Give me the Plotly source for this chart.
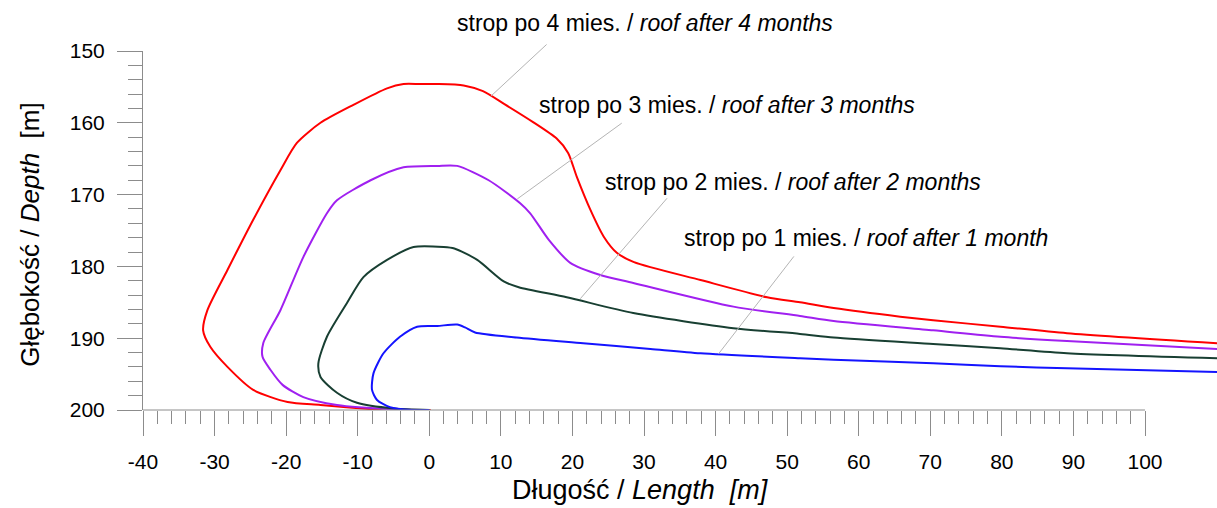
import plotly.graph_objects as go

# ---- data ----
red_x = [0.2, -3, -8, -15.2, -19.8, -24.6, -28.2, -30.6, -31.6, -31.0, -28.2, -24.6, -20.8, -18.5, -15.2,
         -10.6, -5.9, -3.6, -1.3, 1.1, 4.8, 7.5, 10.5, 14.5, 17.8, 19.4, 20.6, 22.5, 24.4, 26.2, 28.6,
         37.9, 47.2, 51.8, 56.5, 65.8, 70.4, 79.8, 89.1, 110.1]
red_y = [200.0, 200.3, 199.9, 199.3, 198.9, 197.2, 194.0, 191.2, 188.9, 186.1, 180.5, 173.5, 166.6, 162.8, 160.0,
         157.5, 155.2, 154.6, 154.6, 154.6, 154.8, 155.6, 157.4, 159.9, 162.2, 164.2, 167.5, 172.1, 175.9, 178.1, 179.4,
         181.9, 184.3, 185.0, 185.8, 187.0, 187.5, 188.4, 189.3, 190.7]

purple_x = [0.0, -5, -12.9, -17.6, -20.5, -22.2, -23.3, -23.2, -20.8, -17.6, -14.3, -12.9, -8.2, -3.6, 1.1,
            3.9, 8.3, 12.7, 14.1, 16.7, 19.7, 23.9, 28.5, 42.5, 51.8, 56.5, 70.4, 79.8, 89.1, 110.1]
purple_y = [200.0, 199.9, 199.3, 198.2, 196.5, 194.4, 192.6, 190.7, 186.1, 178.7, 172.6, 170.8, 168.0, 166.2, 166.0,
            166.0, 168.0, 171.2, 172.6, 176.3, 179.5, 181.2, 182.3, 185.6, 186.9, 187.6, 188.9, 189.8, 190.4, 191.5]

green_x = [0.0, -5, -10.1, -12.9, -15.2, -15.5, -14.3, -11.5, -9.2, -5.9, -2.2, 2.0, 3.5, 6.7, 10.4,
           12.5, 19.2, 28.5, 42.5, 51.8, 56.5, 70.4, 79.8, 89.1, 110.1]
green_y = [200.0, 199.8, 199.0, 197.6, 195.4, 193.5, 189.8, 185.1, 181.5, 179.1, 177.3, 177.3, 177.5, 179.1, 182.1,
           182.9, 184.3, 186.5, 188.6, 189.4, 189.9, 190.8, 191.4, 192.1, 192.8]

blue_x = [0.0, -2.5, -5.5, -7.3, -8.0, -7.8, -6.4, -4.1, -1.7, 1.1, 3.9, 5.0, 6.4, 12.2, 21.5, 30.9,
          37.9, 51.8, 56.5, 70.4, 79.8, 89.1, 110.1]
blue_y = [200.0, 200.0, 199.6, 198.6, 197.2, 194.9, 192.1, 189.8, 188.4, 188.3, 188.1, 188.5, 189.2, 189.9, 190.7, 191.5,
          192.1, 192.8, 193.0, 193.5, 193.9, 194.2, 194.7]

series = [
    ("4", red_x, red_y, "#ff0000"),
    ("3", purple_x, purple_y, "#a020f0"),
    ("2", green_x, green_y, "#183f32"),
    ("1", blue_x, blue_y, "#1414ff"),
]

labels = [
    "strop po 4 mies. / <i>roof after 4 months</i>",
    "strop po 3 mies. / <i>roof after 3 months</i>",
    "strop po 2 mies. / <i>roof after 2 months</i>",
    "strop po 1 mies. / <i>roof after 1 month</i>",
]
# label anchor (left edge x in data, y in data) ; first label is above the axis -> paper
label_pos = [(3.6, None), (15.1, 157.5), (24.3, 168.2), (35.3, 176.0)]
# leader lines: head on curve, tail near label
leaders = [((8.6, 156.3), (16.6, 148.9)),
           ((12.3, 170.6), (27.1, 159.9)),
           ((21.1, 184.5), (33.4, 170.3)),
           ((40.4, 192.2), (51.1, 178.4))]

x_major = list(range(-40, 101, 10))
x_minor = [v for v in range(-40, 101, 2) if v % 10 != 0]
y_major = list(range(150, 201, 10))
y_minor = [v for v in range(150, 201, 2) if v % 10 != 0]

FONT = "Liberation Sans, Arial, sans-serif"
AXC = "#8c8c8c"

fig = go.Figure()
for name, xs, ys, col in series:
    fig.add_trace(go.Scatter(x=xs, y=ys, mode="lines", name=name,
                             line=dict(color=col, width=2, shape="spline", smoothing=0.7),
                             hoverinfo="skip"))

X0, X1 = -40, 110.06
Y0, Y1 = 200, 150

for (lx, ly), txt in zip(label_pos, labels):
    if ly is None:
        fig.add_annotation(x=lx, xref="x", y=(410 - 23) / 359, yref="paper", text=txt,
                           showarrow=False, xanchor="left", yanchor="middle",
                           font=dict(family=FONT, size=23, color="#000"))
    else:
        fig.add_annotation(x=lx, xref="x", y=ly, yref="y", text=txt,
                           showarrow=False, xanchor="left", yanchor="middle",
                           font=dict(family=FONT, size=23, color="#000"))

for (hx, hy), (tx, ty) in leaders:
    fig.add_annotation(x=hx, y=hy, xref="x", yref="y", ax=tx, ay=ty, axref="x", ayref="y",
                       text="", showarrow=True, arrowhead=0, arrowwidth=1, arrowcolor="#b4b4b4",
                       standoff=0, startstandoff=0)

# x axis line only from -40 to 100 (as in the reference)
fig.add_shape(type="line", xref="paper", yref="paper",
              x0=0, x1=(x_major[-1] - X0) / (X1 - X0), y0=0, y1=0,
              line=dict(color=AXC, width=1), layer="above")

# axis titles
fig.add_annotation(x=29.5, xref="x", y=(410 - 490) / 359, yref="paper",
                   text="Długość / <i>Length\u00a0\u00a0[m]</i>", showarrow=False,
                   xanchor="center", yanchor="middle", font=dict(family=FONT, size=27, color="#000"))
fig.add_annotation(x=(30 - 143) / 1074, xref="paper", y=175.6, yref="y",
                   text="Głębokość / <i>Depth</i>\u00a0\u00a0[m]", showarrow=False, textangle=-90,
                   xanchor="center", yanchor="middle", font=dict(family=FONT, size=26, color="#000"))

fig.update_xaxes(range=[X0, X1], showgrid=False, zeroline=False, showline=False,
                 tickmode="array", tickvals=x_major, ticktext=[str(v) for v in x_major],
                 ticks="outside", ticklen=25, tickcolor=AXC, tickwidth=1, ticklabelstandoff=8,
                 tickfont=dict(family=FONT, size=21, color="#000"),
                 minor=dict(tickmode="array", tickvals=x_minor, ticks="outside", ticklen=13,
                            tickcolor=AXC, tickwidth=1))
fig.update_yaxes(range=[Y0, Y1], showgrid=False, zeroline=False, showline=True, linecolor=AXC, linewidth=1,
                 tickmode="array", tickvals=y_major, ticktext=[str(v) for v in y_major],
                 ticks="outside", ticklen=25, tickcolor=AXC, tickwidth=1, ticklabelstandoff=8,
                 tickfont=dict(family=FONT, size=21, color="#000"),
                 minor=dict(tickmode="array", tickvals=y_minor, ticks="outside", ticklen=14,
                            tickcolor=AXC, tickwidth=1))

fig.update_layout(width=1217, height=508, autosize=False,
                  margin=dict(l=143, r=0, t=51, b=98),
                  plot_bgcolor="white", paper_bgcolor="white", showlegend=False)

fig.write_html("out.html", config={"displayModeBar": False},
               post_script="document.body.style.margin='0px';document.body.style.padding='0px';"
                           "document.documentElement.style.overflow='hidden';")
